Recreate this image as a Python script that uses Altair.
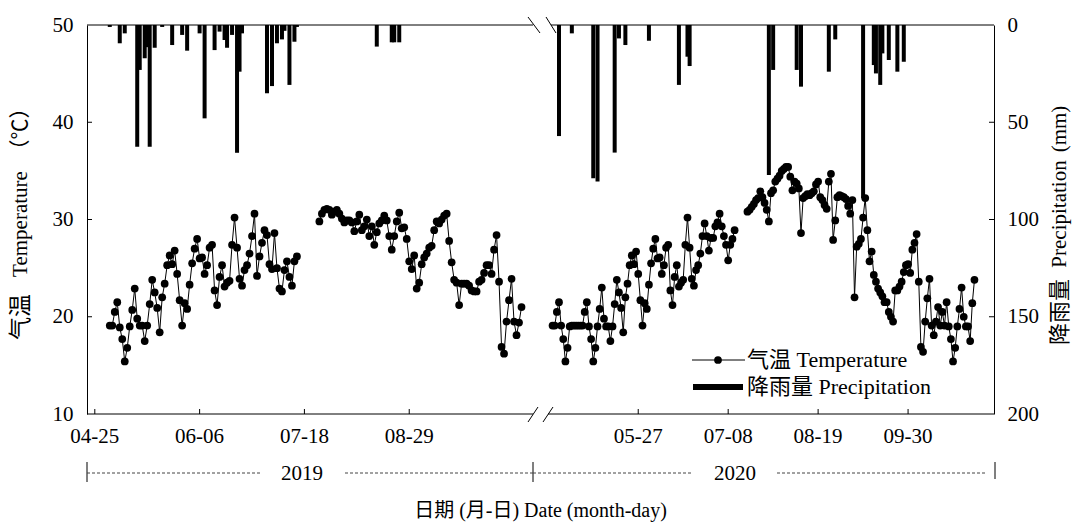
import altair as alt
import pandas as pd

# ---------------- data ----------------
temp_2019a_start = "2019-05-01"
temp_2019a = [19.1, 19.1, 20.5, 21.5, 18.9, 17.7, 15.4, 16.8, 19.0, 20.7, 22.9, 19.8, 19.1, 19.1, 17.5,
              19.1, 21.3, 23.8, 22.5, 20.9, 18.4, 22.0, 23.4, 25.3, 26.3, 25.4, 26.8, 24.4, 21.7, 19.1,
              21.4, 20.8, 23.3, 25.5, 27.0, 28.0, 26.0, 26.1, 24.4, 25.3, 27.1, 27.4, 22.7, 21.2, 24.1,
              25.3, 23.1, 23.5, 23.7, 27.4, 30.2, 27.1, 23.9, 23.2, 24.8, 25.3, 26.5, 28.3, 30.6, 24.2,
              26.2, 27.6, 28.9, 28.4, 25.4, 24.9, 28.6, 25.0, 22.9, 22.6, 24.8, 25.7, 24.1, 23.2, 25.7, 26.2]

temp_2019b_start = "2019-07-24"
temp_2019b = [29.8, 30.6, 31.0, 31.1, 31.0, 30.5, 30.8, 31.0, 30.6, 30.1, 29.7, 29.9, 29.9, 29.7, 28.8,
              29.8, 30.5, 28.9, 29.3, 30.0, 28.3, 29.3, 27.4, 28.7, 29.6, 29.9, 30.4, 29.9, 28.3, 26.9,
              28.3, 29.8, 30.7, 29.1, 29.2, 28.0, 25.7, 24.9, 26.3, 22.9, 23.5, 25.4, 26.1, 26.5, 27.1,
              27.3, 28.9, 29.8, 29.6, 30.0, 30.4, 30.6, 27.8, 25.6, 23.8, 23.5, 21.2, 23.4, 23.4, 23.4,
              23.2, 22.7, 22.6, 22.6, 23.6, 23.8, 24.5, 25.3, 25.3, 24.4, 26.9, 28.4, 23.6, 16.9, 16.2,
              19.5, 21.7, 23.9, 19.5, 18.1, 19.4, 21.0]

temp_2020a_start = "2020-04-17"
temp_2020a = [19.1, 19.1, 20.5, 21.5, 19.1, 17.7, 15.4, 16.8, 19.0, 19.1, 19.1, 19.1, 19.1, 19.1, 19.1,
              20.5, 21.5, 19.0, 17.7, 15.4, 16.8, 19.0, 20.8, 23.0, 19.8, 19.0, 19.0, 17.5, 19.0, 21.3,
              23.8, 22.5, 20.9, 18.4, 22.0, 23.4, 25.3, 26.3, 25.4, 26.7, 24.4, 21.7, 19.1, 21.4, 20.8,
              23.3, 25.5, 27.0, 28.0, 26.0, 26.1, 24.4, 25.3, 27.1, 27.4, 22.7, 21.2, 24.1, 25.3, 23.1,
              23.5, 23.8, 27.4, 30.2, 27.1, 23.9, 23.2, 24.8, 25.3, 26.5, 28.3, 29.6, 28.3, 26.8, 28.1,
              28.1, 29.3, 29.7, 30.6, 29.3, 28.3, 27.4, 25.8, 27.4, 28.0, 28.9]

temp_2020b_start = "2020-07-17"
temp_2020b = [30.8, 31.0, 31.3, 31.6, 32.0, 32.2, 32.9, 32.3, 31.7, 31.0, 29.8, 32.7, 33.0, 33.9, 34.2,
              34.5, 35.0, 35.2, 35.4, 35.4, 34.4, 33.0, 33.9, 33.7, 33.2, 28.6, 32.2, 32.4, 32.6, 32.5,
              32.7, 32.9, 33.6, 33.9, 32.3, 32.0, 31.5, 31.1, 33.9, 34.7, 27.9, 29.9, 32.3, 32.5, 32.4,
              32.3, 32.1, 31.4, 30.6, 32.0, 22.0, 27.2, 27.5, 28.0, 30.2, 32.2, 28.9, 25.7, 26.7, 24.3,
              23.6, 22.9, 22.5, 22.1, 21.5, 21.5, 20.5, 20.0, 19.5, 22.7, 22.7, 23.1, 23.6, 24.6, 25.3,
              25.4, 24.5, 26.9, 27.6, 28.5, 23.6, 16.9, 16.4, 19.5, 21.9, 23.9, 19.1, 18.1, 19.5, 21.0,
              19.1, 20.5, 19.1, 21.5, 19.0, 17.7, 15.4, 16.8, 19.0, 20.8, 23.0, 20.0, 19.0, 19.0, 17.5,
              21.4, 23.8]

rain_2019_dates = ["2019-05-01", "2019-05-05", "2019-05-07", "2019-05-12", "2019-05-13", "2019-05-15",
                   "2019-05-16", "2019-05-17", "2019-05-19", "2019-05-22", "2019-05-26", "2019-05-30",
                   "2019-06-01", "2019-06-06", "2019-06-08", "2019-06-12", "2019-06-14", "2019-06-16",
                   "2019-06-17", "2019-06-19", "2019-06-21", "2019-06-22", "2019-06-23", "2019-07-03",
                   "2019-07-05", "2019-07-07", "2019-07-09", "2019-07-10", "2019-07-12", "2019-07-14",
                   "2019-07-15", "2019-08-16", "2019-08-22", "2019-08-23", "2019-08-25"]
rain_2019_mm = [1.0, 9.4, 4.3, 62.6, 23.1, 17.1, 11.4, 62.6, 11.7, 1.0, 10.3, 5.1, 13.2, 4.3, 48.0,
                12.9, 3.4, 7.7, 11.7, 5.1, 65.7, 24.0, 4.3, 35.1, 31.4, 9.4, 7.4, 3.0, 30.8, 8.6,
                1.0, 11.1, 8.9, 8.9, 8.9]

rain_2020_dates = ["2020-04-20", "2020-04-26", "2020-05-06", "2020-05-08", "2020-05-16", "2020-05-18",
                   "2020-05-21", "2020-06-01", "2020-06-15", "2020-06-19", "2020-06-20", "2020-07-27",
                   "2020-07-29", "2020-08-09", "2020-08-11", "2020-08-24", "2020-08-27", "2020-09-09",
                   "2020-09-14", "2020-09-15", "2020-09-17", "2020-09-18", "2020-09-21", "2020-09-25",
                   "2020-09-28"]
rain_2020_mm = [57.1, 4.3, 78.8, 80.5, 65.6, 6.9, 10.3, 8.1, 30.8, 16.3, 21.1, 77.1, 23.1, 23.1, 31.7,
                24.0, 7.4, 89.1, 20.6, 24.9, 30.8, 14.6, 18.0, 24.0, 18.9]

tick_dates = ["2019-04-25", "2019-06-06", "2019-07-18", "2019-08-29",
              "2020-05-27", "2020-07-08", "2020-08-19", "2020-09-30"]
tick_labels = ["04-25", "06-06", "07-18", "08-29", "05-27", "07-08", "08-19", "09-30"]
temp_ticks = [10, 20, 30, 40, 50]
rain_ticks = [0, 50, 100, 150, 200]
year_labels = ["2019", "2020"]

BASE = pd.Timestamp("2019-04-25")


def dayno(s):
    return (pd.Timestamp(s) - BASE).days


rows = []
for seg, (start, vals) in enumerate([(temp_2019a_start, temp_2019a), (temp_2019b_start, temp_2019b),
                                     (temp_2020a_start, temp_2020a), (temp_2020b_start, temp_2020b)]):
    d0 = dayno(start)
    for i, v in enumerate(vals):
        rows.append({"day": d0 + i, "temp": v, "seg": seg})
tdf = pd.DataFrame(rows)

rdf = pd.DataFrame({"day": [dayno(d) for d in rain_2019_dates + rain_2020_dates],
                    "rain": rain_2019_mm + rain_2020_mm})

ticks_x = pd.DataFrame({"day": [dayno(d) for d in tick_dates], "lab": tick_labels})
ticks_t = pd.DataFrame({"v": temp_ticks[1:-1]})
ticks_r = pd.DataFrame({"v": rain_ticks[1:-1]})

# ---------------- layout ----------------
W, H = 907, 389
FONT = "Liberation Serif, Noto Sans CJK SC"
LBL = 21

xscale = alt.Scale(domain=[0, 174, 354, 561], range=[0, 442, 457, W], nice=False, zero=False)
tscale = alt.Scale(domain=[10, 50], nice=False, zero=False)
rscale = alt.Scale(domain=[0, 200], reverse=True, nice=False)

bars = alt.Chart(rdf).mark_bar(color="black", size=4).encode(
    x=alt.X("day:Q", scale=xscale, axis=None),
    y=alt.Y("rain:Q", scale=rscale,
            axis=alt.Axis(orient="right", values=rain_ticks, ticks=False, grid=False,
                          domain=True, domainColor="black", domainWidth=1,
                          labelFont=FONT, labelFontSize=LBL, labelColor="black", labelPadding=13,
                          labelFlush=False, labelOverlap=False, title=None)),
)

temps = alt.Chart(tdf).mark_line(
    color="black", strokeWidth=1,
    point=alt.OverlayMarkDef(filled=True, fill="black", color="black", size=60, opacity=1),
).encode(
    x=alt.X("day:Q", scale=xscale, axis=None),
    y=alt.Y("temp:Q", scale=tscale,
            axis=alt.Axis(orient="left", values=temp_ticks, ticks=False, grid=False,
                          domain=True, domainColor="black", domainWidth=1,
                          labelFont=FONT, labelFontSize=LBL, labelColor="black", labelPadding=14,
                          labelFlush=False, labelOverlap=False, title=None)),
    detail="seg:N",
)

# inward tick marks + x tick labels (through the x scale)
xt = alt.Chart(ticks_x).mark_rule(color="black", strokeWidth=1).encode(
    x=alt.X("day:Q", scale=xscale, axis=None), y=alt.value(H - 5), y2=alt.value(H))
xl = alt.Chart(ticks_x).mark_text(font=FONT, fontSize=LBL, color="black", baseline="middle",
                                  align="center").encode(
    x=alt.X("day:Q", scale=xscale, axis=None), y=alt.value(H + 23), text="lab:N")
lt = alt.Chart(ticks_t).mark_rule(color="black", strokeWidth=1).encode(
    y=alt.Y("v:Q", scale=tscale, axis=None), x=alt.value(0), x2=alt.value(5))
rt = alt.Chart(ticks_r).mark_rule(color="black", strokeWidth=1).encode(
    y=alt.Y("v:Q", scale=rscale, axis=None), x=alt.value(W - 5), x2=alt.value(W))

one = alt.Data(values=[{"k": 1}])


def seg_rule(x1, y1, x2, y2, width=1.0, dash=None, color="black"):
    kw = dict(color=color, strokeWidth=width)
    if dash:
        kw["strokeDash"] = dash
    return alt.Chart(one).mark_rule(**kw).encode(
        x=alt.value(x1), x2=alt.value(x2), y=alt.value(y1), y2=alt.value(y2))


def label(txt, x, y, size, align="center", angle=0):
    return alt.Chart(one).mark_text(text=txt, font=FONT, fontSize=size, color="black",
                                    align=align, baseline="middle", angle=angle).encode(
        x=alt.value(x), y=alt.value(y))


deco = [
    # frame top & bottom with break
    seg_rule(0, 0, 446, 0), seg_rule(464, 0, W, 0),
    seg_rule(0, H, 446, H), seg_rule(461, H, W, H),
    # break slashes
    seg_rule(441, H + 8, 451, H - 7), seg_rule(456, H + 8, 466, H - 7),
    seg_rule(441, -8, 453, 8), seg_rule(459, -8, 469, 8),
    # year row
    seg_rule(0, 437, 0, 457), seg_rule(446, 437, 446, 457), seg_rule(908, 437, 908, 454),
    seg_rule(0, 448, 173, 448, 1, [3, 2], "#444"), seg_rule(258, 448, 446, 448, 1, [3, 2], "#444"),
    seg_rule(446, 448, 606, 448, 1, [3, 2], "#444"), seg_rule(690, 448, 900, 448, 1, [3, 2], "#444"),
    label(year_labels[0], 215, 449, 21), label(year_labels[1], 648, 449, 21),
    # axis titles
    label("日期 (月-日) Date (month-day)", W / 2, 97 + H, 20),
    label("气温", -66, 292, 23, angle=270),
    label("Temperature", -66, 199, 21, angle=270),
    label("（℃）", -66, 104, 21, angle=270),
    label("降雨量", 973, 287, 22, angle=270),
    label("Precipitation", 973, 189, 21, angle=270),
    label("(mm)", 973, 104, 21, angle=270),
    # legend
    seg_rule(605, 335, 658, 335),
    alt.Chart(one).mark_point(filled=True, color="black", size=60, opacity=1).encode(
        x=alt.value(631), y=alt.value(335)),
    seg_rule(606, 362, 656, 362, 6),
    label("气温 Temperature", 660, 335, 22, "left"),
    label("降雨量 Precipitation", 660, 362, 22, "left"),
]

chart = alt.layer(bars, temps, xt, xl, lt, rt, *deco).resolve_scale(y="independent").properties(
    width=W, height=H,
    padding={"left": 79, "top": 17, "right": 78, "bottom": 108},
    autosize=alt.AutoSizeParams(type="none"),
).configure_view(stroke=None)

chart.save("out.html", embed_options={"renderer": "svg", "actions": False})
